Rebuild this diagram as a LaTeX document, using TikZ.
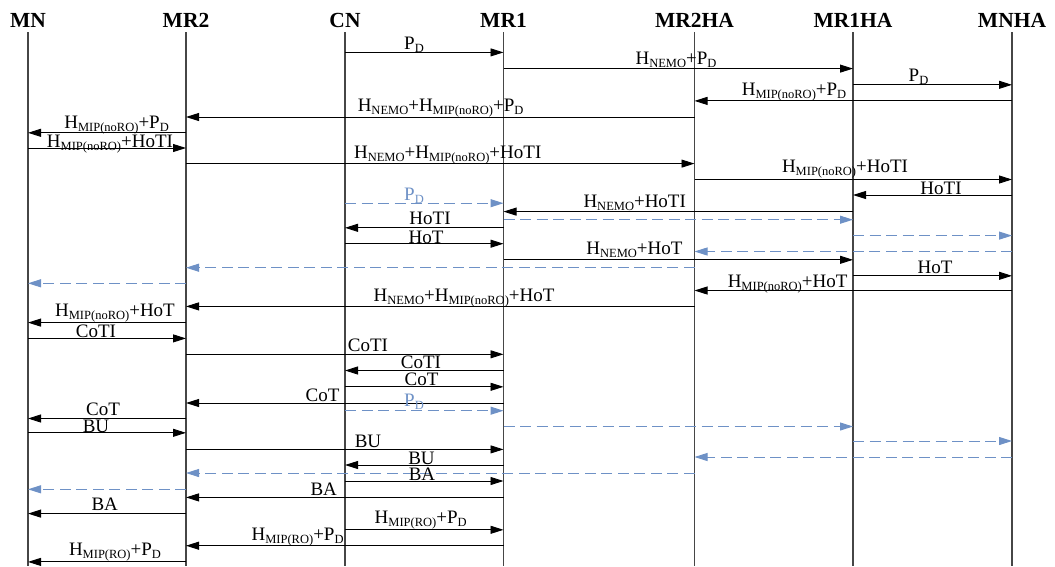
\documentclass[tikz,border=0pt]{standalone}
\usepackage{fontspec}
\setmainfont{Liberation Serif}
\usetikzlibrary{arrows.meta}
\definecolor{dblue}{RGB}{110,145,198}
\definecolor{lifegray}{RGB}{70,70,70}
\newcommand\sbs[1]{\raisebox{-3pt}{\fontsize{12.5}{13}\selectfont #1}}
\newcommand\msg[4]{\draw[#1] (#2 |- 0,-#4) -- (#3 |- 0,-#4);}
\begin{document}
\begin{tikzpicture}[x=1pt,y=1pt,
  head/.style={anchor=base,inner sep=0pt,font=\bfseries\fontsize{21.5}{23}\selectfont},
  life/.style={draw=lifegray,line width=1.1pt},
  msgs/.style={draw=black,line width=0.9pt,-{Triangle[length=13pt,width=8pt]}},
  dmsg/.style={draw=dblue,line width=1pt,dash pattern=on 11pt off 5.5pt,-{Triangle[length=13pt,width=8pt,fill=dblue]}},
  lab/.style={anchor=base,inner sep=0pt,font=\fontsize{19}{21}\selectfont},
  dlab/.style={lab,text=dblue}]
\useasboundingbox (0,0) rectangle (1055,-566);
% headers
\node[head] (MN) at (28,-27) {MN};
\node[head] (MR2) at (186,-27) {MR2};
\node[head] (CN) at (345,-27) {CN};
\node[head] (MR1) at (503.5,-27) {MR1};
\node[head] (MR2HA) at (694.5,-27) {MR2HA};
\node[head] (MR1HA) at (853,-27) {MR1HA};
\node[head] (MNHA) at (1012,-27) {MNHA};
% lifelines
\foreach \n in {MN,MR2,CN,MR1,MR2HA,MR1HA,MNHA}{
  \coordinate (\n t) at (\n |- 0,-32);
  \coordinate (\n b) at (\n |- 0,-566);
  \draw[life] (\n t) -- (\n b);
}
% messages
\msg{msgs}{CN}{MR1}{52.4}
\msg{msgs}{MR1}{MR1HA}{68.6}
\msg{msgs}{MR1HA}{MNHA}{84.8}
\msg{msgs}{MNHA}{MR2HA}{100.9}
\msg{msgs}{MR2HA}{MR2}{117}
\msg{msgs}{MR2}{MN}{132.8}
\msg{msgs}{MN}{MR2}{148}
\msg{msgs}{MR2}{MR2HA}{163.6}
\msg{msgs}{MR2HA}{MNHA}{179.5}
\msg{msgs}{MNHA}{MR1HA}{195}
\msg{dmsg}{CN}{MR1}{203.2}
\msg{msgs}{MR1HA}{MR1}{211.6}
\msg{dmsg}{MR1}{MR1HA}{219.7}
\msg{msgs}{MR1}{CN}{227.8}
\msg{dmsg}{MR1HA}{MNHA}{235.6}
\msg{msgs}{CN}{MR1}{243.7}
\msg{dmsg}{MNHA}{MR2HA}{251.5}
\msg{msgs}{MR1}{MR1HA}{259.8}
\msg{dmsg}{MR2HA}{MR2}{267.7}
\msg{msgs}{MR1HA}{MNHA}{275.8}
\msg{dmsg}{MR2}{MN}{283.3}
\msg{msgs}{MNHA}{MR2HA}{290.5}
\msg{msgs}{MR2HA}{MR2}{306.4}
\msg{msgs}{MR2}{MN}{322.6}
\msg{msgs}{MN}{MR2}{338.4}
\msg{msgs}{MR2}{MR1}{354.3}
\msg{msgs}{MR1}{CN}{370.5}
\msg{msgs}{CN}{MR1}{386.8}
\msg{msgs}{MR1}{MR2}{403}
\msg{dmsg}{CN}{MR1}{410.7}
\msg{msgs}{MR2}{MN}{418.5}
\msg{dmsg}{MR1}{MR1HA}{426.5}
\msg{msgs}{MN}{MR2}{432.8}
\msg{dmsg}{MR1HA}{MNHA}{441}
\msg{msgs}{MR2}{MR1}{449.4}
\msg{dmsg}{MNHA}{MR2HA}{457}
\msg{msgs}{MR1}{CN}{465}
\msg{dmsg}{MR2HA}{MR2}{473}
\msg{msgs}{CN}{MR1}{481}
\msg{dmsg}{MR2}{MN}{489.3}
\msg{msgs}{MR1}{MR2}{497.4}
\msg{msgs}{MR2}{MN}{513.6}
\msg{msgs}{CN}{MR1}{529.8}
\msg{msgs}{MR1}{MR2}{545.7}
\msg{msgs}{MR2}{MN}{561.9}
% labels (baseline positions)
\node[lab] (t1) at (414,-49) {P\sbs{D}};
\node[lab] (t2) at (676,-64.2) {H\sbs{NEMO}+P\sbs{D}};
\node[lab] (t3) at (918.5,-81.4) {P\sbs{D}};
\node[lab] (t4) at (794,-95.5) {H\sbs{MIP(noRO)}+P\sbs{D}};
\node[lab] (t5) at (440.6,-111.3) {H\sbs{NEMO}+H\sbs{MIP(noRO)}+P\sbs{D}};
\node[lab] (t6) at (116.6,-128.4) {H\sbs{MIP(noRO)}+P\sbs{D}};
\node[lab] (t7) at (110,-147) {H\sbs{MIP(noRO)}+HoTI};
\node[lab] (t8) at (447.7,-158.6) {H\sbs{NEMO}+H\sbs{MIP(noRO)}+HoTI};
\node[lab] (t9) at (845,-172.8) {H\sbs{MIP(noRO)}+HoTI};
\node[lab] (t10) at (941,-194) {HoTI};
\node[dlab] (t11) at (414,-200.2) {P\sbs{D}};
\node[lab] (t12) at (634.7,-207.6) {H\sbs{NEMO}+HoTI};
\node[lab] (t14) at (430,-224.4) {HoTI};
\node[lab] (t16) at (426,-243) {HoT};
\node[lab] (t18) at (634.5,-254.8) {H\sbs{NEMO}+HoT};
\node[lab] (t20) at (935,-273.4) {HoT};
\node[lab] (t22) at (787.6,-287.5) {H\sbs{MIP(noRO)}+HoT};
\node[lab] (t23) at (464,-301) {H\sbs{NEMO}+H\sbs{MIP(noRO)}+HoT};
\node[lab] (t24) at (115,-316.6) {H\sbs{MIP(noRO)}+HoT};
\node[lab] (t25) at (96,-337.4) {CoTI};
\node[lab] (t26) at (368,-351.9) {CoTI};
\node[lab] (t27) at (421,-368.8) {CoTI};
\node[lab] (t28) at (421.6,-385.5) {CoT};
\node[lab] (t29) at (322.6,-401) {CoT};
\node[dlab] (t30) at (414,-406.7) {P\sbs{D}};
\node[lab] (t31) at (103,-415.8) {CoT};
\node[lab] (t33) at (96,-432.3) {BU};
\node[lab] (t35) at (368,-447) {BU};
\node[lab] (t37) at (421.5,-464) {BU};
\node[lab] (t39) at (422,-480.5) {BA};
\node[lab] (t41) at (323.7,-495) {BA};
\node[lab] (t42) at (104.7,-510.2) {BA};
\node[lab] (t43) at (420.7,-523) {H\sbs{MIP(RO)}+P\sbs{D}};
\node[lab] (t44) at (297.6,-540) {H\sbs{MIP(RO)}+P\sbs{D}};
\node[lab] (t45) at (115,-555.9) {H\sbs{MIP(RO)}+P\sbs{D}};
\end{tikzpicture}
\end{document}
